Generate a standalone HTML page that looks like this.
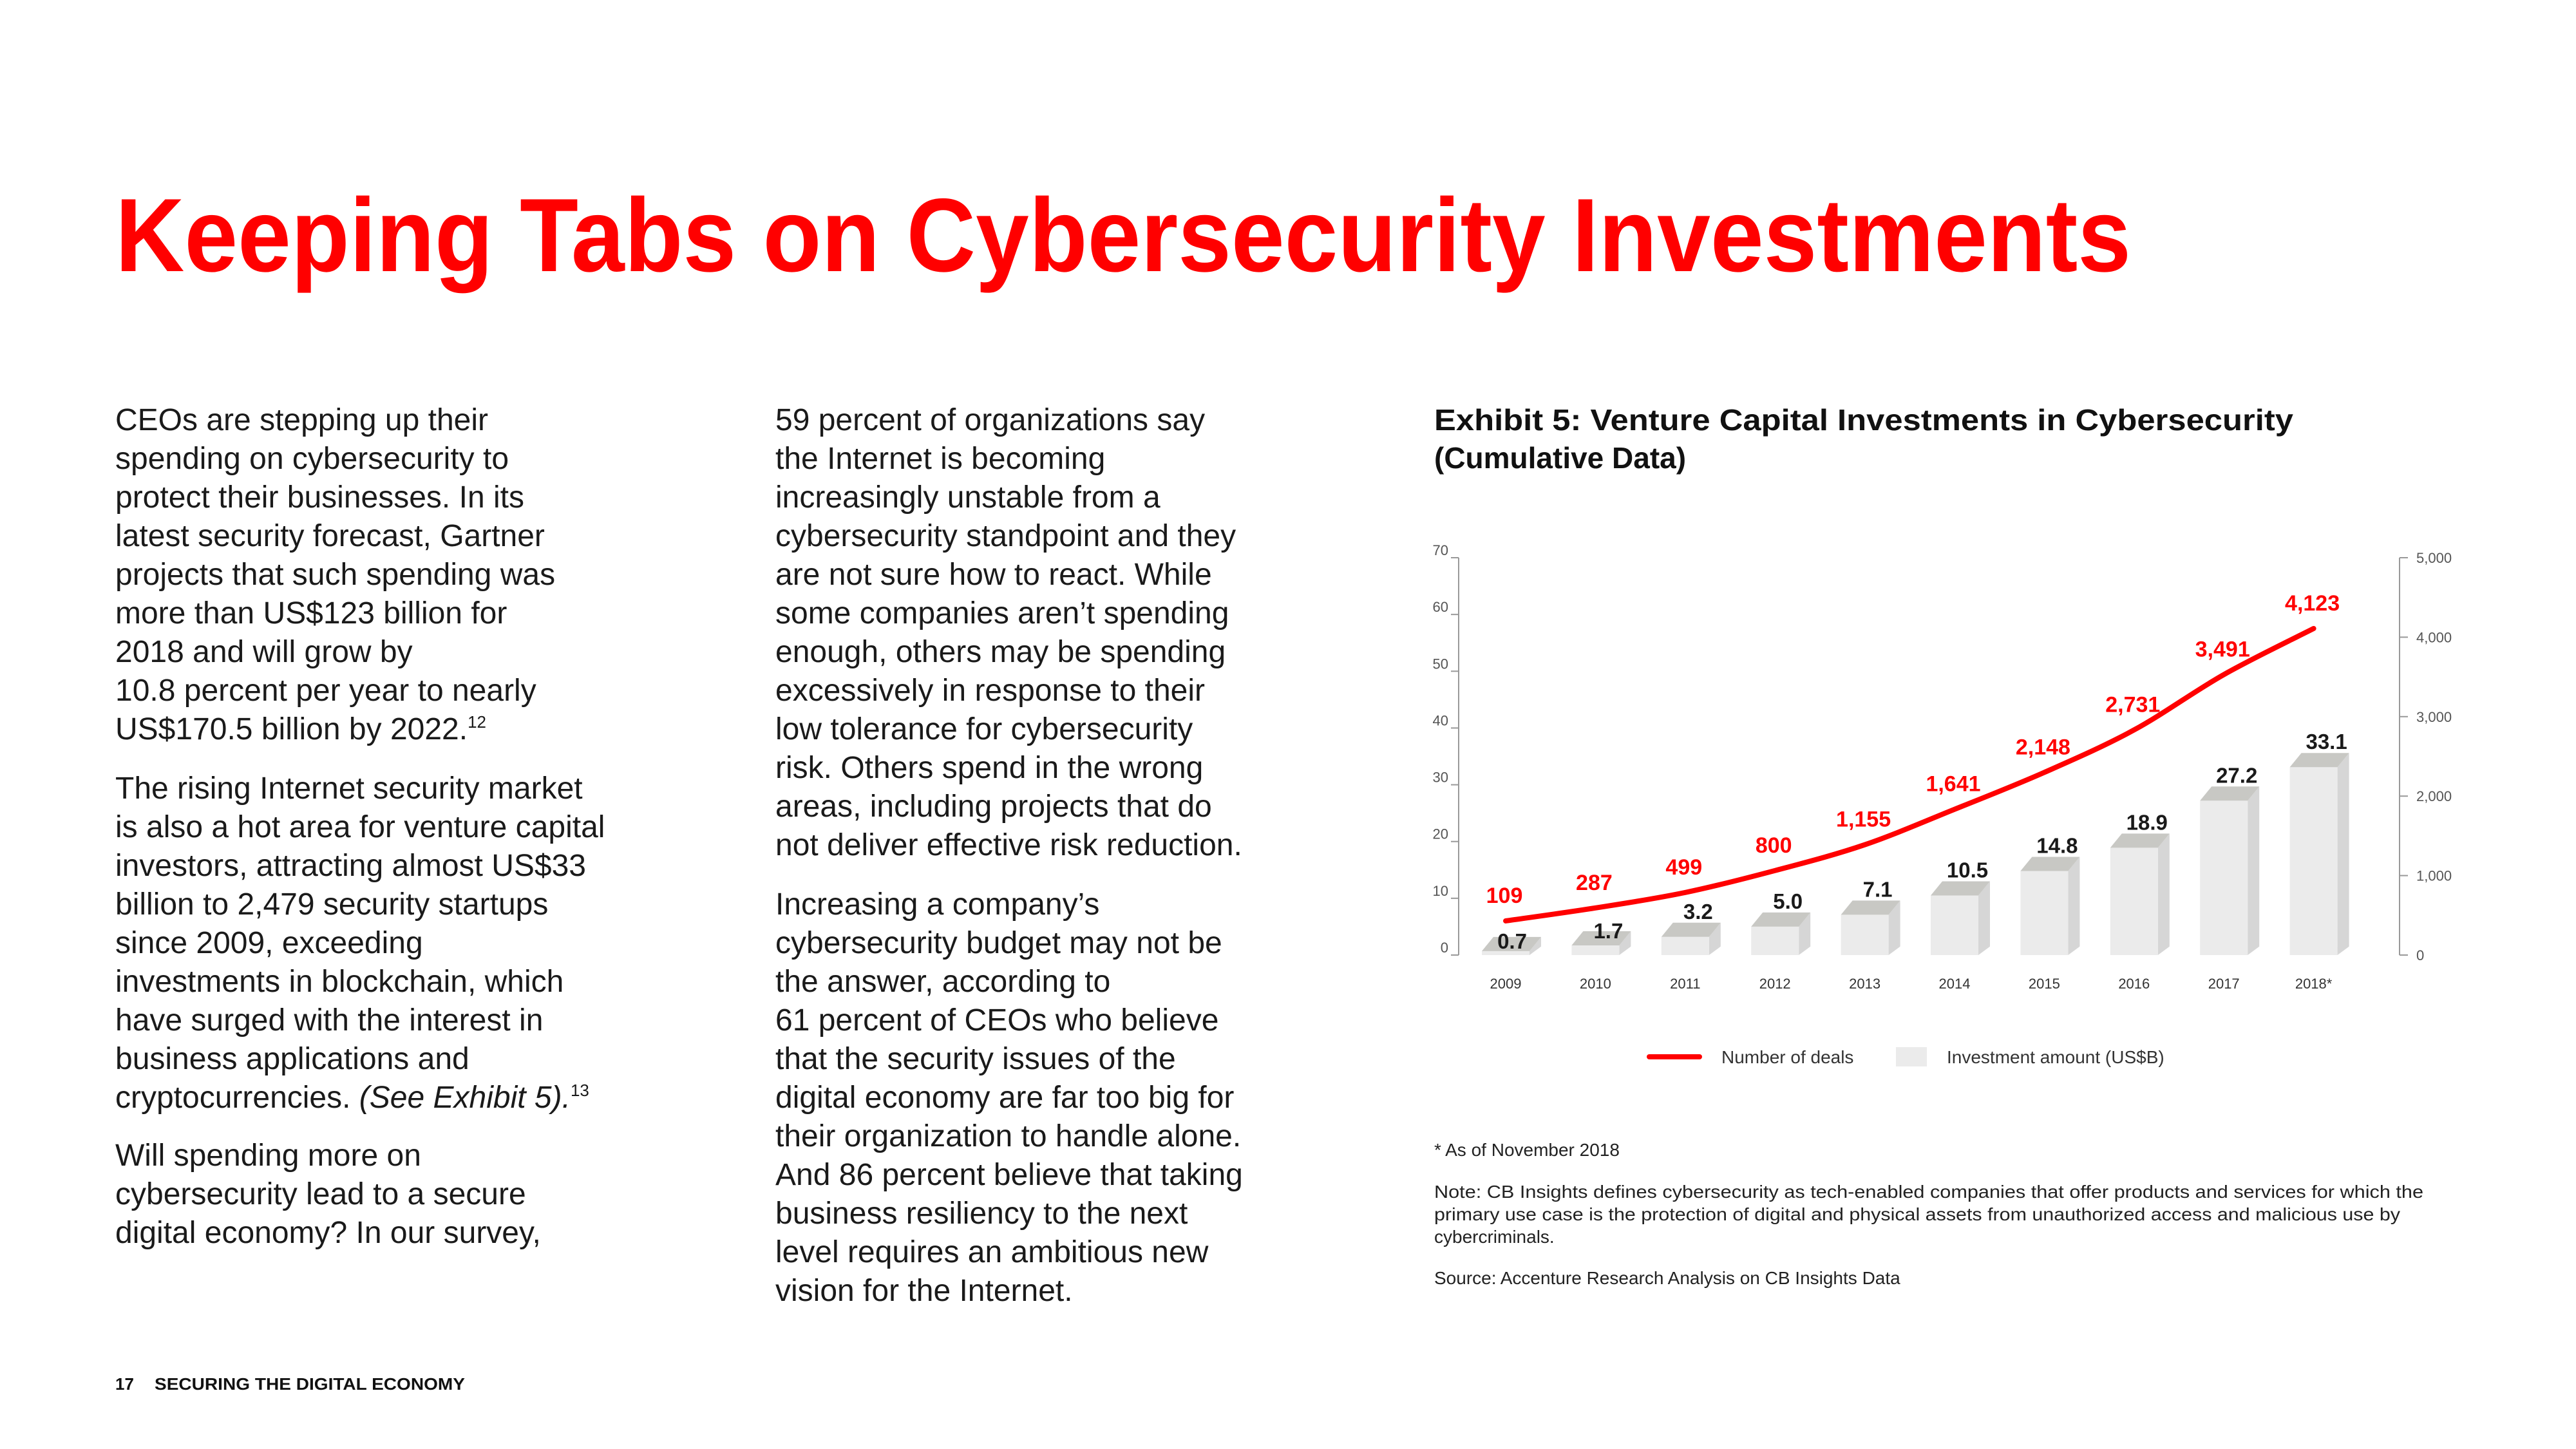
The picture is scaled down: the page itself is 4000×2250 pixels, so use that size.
<!DOCTYPE html>
<html><head><meta charset="utf-8">
<style>
html,body{margin:0;padding:0;background:#fff;}
svg{display:block;font-family:"Liberation Sans",sans-serif;}
.body{font-size:48px;fill:#1a1a1a;}
.note{font-size:28px;fill:#222;}
</style></head>
<body>
<svg id="page" width="4000" height="2250" viewBox="0 0 4000 2250" xmlns="http://www.w3.org/2000/svg">
<rect width="4000" height="2250" fill="#fff"/>
<text x="179" y="421" font-size="162" font-weight="bold" fill="#ff0000" textLength="3130" lengthAdjust="spacingAndGlyphs">Keeping Tabs on Cybersecurity Investments</text>

<g class="body">
<text x="179" y="668">CEOs are stepping up their</text>
<text x="179" y="728">spending on cybersecurity to</text>
<text x="179" y="788">protect their businesses. In its</text>
<text x="179" y="848">latest security forecast, Gartner</text>
<text x="179" y="908">projects that such spending was</text>
<text x="179" y="968">more than US$123 billion for</text>
<text x="179" y="1028">2018 and will grow by</text>
<text x="179" y="1088">10.8 percent per year to nearly</text>
<text x="179" y="1148">US$170.5 billion by 2022.<tspan font-size="26" dy="-18">12</tspan></text>
<text x="179" y="1240">The rising Internet security market</text>
<text x="179" y="1300">is also a hot area for venture capital</text>
<text x="179" y="1360">investors, attracting almost US$33</text>
<text x="179" y="1420">billion to 2,479 security startups</text>
<text x="179" y="1480">since 2009, exceeding</text>
<text x="179" y="1540">investments in blockchain, which</text>
<text x="179" y="1600">have surged with the interest in</text>
<text x="179" y="1660">business applications and</text>
<text x="179" y="1720">cryptocurrencies. <tspan font-style="italic">(See Exhibit 5).</tspan><tspan font-size="26" dy="-18">13</tspan></text>
<text x="179" y="1810">Will spending more on</text>
<text x="179" y="1870">cybersecurity lead to a secure</text>
<text x="179" y="1930">digital economy? In our survey,</text>
</g>

<g class="body">
<text x="1204" y="668">59 percent of organizations say</text>
<text x="1204" y="728">the Internet is becoming</text>
<text x="1204" y="788">increasingly unstable from a</text>
<text x="1204" y="848">cybersecurity standpoint and they</text>
<text x="1204" y="908">are not sure how to react. While</text>
<text x="1204" y="968">some companies aren’t spending</text>
<text x="1204" y="1028">enough, others may be spending</text>
<text x="1204" y="1088">excessively in response to their</text>
<text x="1204" y="1148">low tolerance for cybersecurity</text>
<text x="1204" y="1208">risk. Others spend in the wrong</text>
<text x="1204" y="1268">areas, including projects that do</text>
<text x="1204" y="1328">not deliver effective risk reduction.</text>
<text x="1204" y="1420">Increasing a company’s</text>
<text x="1204" y="1480">cybersecurity budget may not be</text>
<text x="1204" y="1540">the answer, according to</text>
<text x="1204" y="1600">61 percent of CEOs who believe</text>
<text x="1204" y="1660">that the security issues of the</text>
<text x="1204" y="1720">digital economy are far too big for</text>
<text x="1204" y="1780">their organization to handle alone.</text>
<text x="1204" y="1840">And 86 percent believe that taking</text>
<text x="1204" y="1900">business resiliency to the next</text>
<text x="1204" y="1960">level requires an ambitious new</text>
<text x="1204" y="2020">vision for the Internet.</text>
</g>

<g font-weight="bold" font-size="26" fill="#111">
<text x="179" y="2158">17</text>
<text x="240" y="2158" textLength="482" lengthAdjust="spacingAndGlyphs">SECURING THE DIGITAL ECONOMY</text>
</g>

<g font-weight="bold" font-size="46" fill="#111">
<text x="2227" y="668" textLength="1334" lengthAdjust="spacingAndGlyphs">Exhibit 5: Venture Capital Investments in Cybersecurity</text>
<text x="2227" y="727">(Cumulative Data)</text>
</g>

<g id="chart"></g>

<g font-size="28" fill="#333">
<line x1="2561" y1="1641" x2="2639" y2="1641" stroke="#f00" stroke-width="8" stroke-linecap="round"/>
<text x="2673" y="1651">Number of deals</text>
<rect x="2944" y="1626" width="48" height="30" fill="#ebebeb"/>
<text x="3023" y="1651">Investment amount (US$B)</text>
</g>

<g class="note">
<text x="2227" y="1795">* As of November 2018</text>
<text x="2227" y="1860" textLength="1536" lengthAdjust="spacingAndGlyphs">Note: CB Insights defines cybersecurity as tech-enabled companies that offer products and services for which the</text>
<text x="2227" y="1895" textLength="1500" lengthAdjust="spacingAndGlyphs">primary use case is the protection of digital and physical assets from unauthorized access and malicious use by</text>
<text x="2227" y="1930">cybercriminals.</text>
<text x="2227" y="1994">Source: Accenture Research Analysis on CB Insights Data</text>
</g>
</svg>

<script>
const years = ["2009","2010","2011","2012","2013","2014","2015","2016","2017","2018*"];
const investment = [0.7,1.7,3.2,5.0,7.1,10.5,14.8,18.9,27.2,33.1];
const deals = [109,287,499,800,1155,1641,2148,2731,3491,4123];
const leftTicks = [0,10,20,30,40,50,60,70];
const rightTicks = [0,1000,2000,3000,4000,5000];
const rightTickLabels = ["0","1,000","2,000","3,000","4,000","5,000"];

const NS = "http://www.w3.org/2000/svg";
const chart = document.getElementById("chart");
const Y0 = 1483, Y1 = 866, XL = 2265, XR = 3726, C0 = 2338, STEP = 139.4;
const yL = v => Y0 - v / 70 * (Y0 - Y1);
const yR = v => Y0 - v / 5000 * (Y0 - Y1);
// the published line is drawn slightly offset from the right axis scale
const yD = v => 1442.3 - v * 0.1131;
const xC = i => C0 + i * STEP;
function mk(tag, attrs, parent) {
  const e = document.createElementNS(NS, tag);
  for (const k in attrs) e.setAttribute(k, attrs[k]);
  (parent || chart).appendChild(e);
  return e;
}
let a = mk("line", {x1: XL, y1: Y1, x2: XL, y2: Y0, stroke: "#999", "stroke-width": 2});


a = mk("line", {x1: XR, y1: Y1, x2: XR, y2: Y0, stroke: "#999", "stroke-width": 2});


leftTicks.forEach(t => {
  const y = yL(t);
  const l = mk("line", {x1: XL - 12, y1: y, x2: XL, y2: y, stroke: "#999", "stroke-width": 2});
  
  
  const tx = mk("text", {x: XL - 16, y: y - 4, "text-anchor": "end", "font-size": 22, fill: "#555"});
  tx.textContent = t;
  
  
});
rightTicks.forEach((t, i) => {
  const y = yR(t);
  const l = mk("line", {x1: XR, y1: y, x2: XR + 13, y2: y, stroke: "#999", "stroke-width": 2});
  
  
  const tx = mk("text", {x: XR + 26, y: y + 8, "font-size": 22, fill: "#555"});
  tx.textContent = rightTickLabels[i];
  
  
});
const W = 74, DX = 18, DY = 22;
investment.forEach((v, i) => {
  const c = xC(i), x0 = c - W / 2, x1 = c + W / 2, yt = yL(v);
  const g = mk("g", {});
  
  
  mk("polygon", {points: `${x1},${yt} ${x1+DX},${yt-DY} ${x1+DX},${Y0-DY*0.6} ${x1},${Y0}`, fill: "#d6d6d6"}, g);
  mk("rect", {x: x0, y: yt, width: W, height: Y0 - yt, fill: "#ebebeb"}, g);
  mk("polygon", {points: `${x0},${yt} ${x1},${yt} ${x1+DX},${yt-DY} ${x0+DX},${yt-DY}`, fill: "#c8c8c4"}, g);
  const off = v < 1 ? 4 : (v < 2.5 ? 11 : 28);
  const t = mk("text", {x: c + (v < 1 ? 10 : 20), y: yt - off, "text-anchor": "middle", "font-size": 33, "font-weight": "bold", fill: "#1a1a1a"});
  t.textContent = v.toFixed(1);
  
  
  const yl = mk("text", {x: c, y: 1535, "text-anchor": "middle", "font-size": 22, fill: "#333"});
  yl.textContent = years[i];
  
  
});
const pts = deals.map((d, i) => [xC(i), yD(d)]);
let dpath = `M${pts[0][0]},${pts[0][1]}`;
for (let i = 0; i < pts.length - 1; i++) {
  const p0 = pts[Math.max(0, i - 1)], p1 = pts[i], p2 = pts[i + 1], p3 = pts[Math.min(pts.length - 1, i + 2)];
  const c1 = [p1[0] + (p2[0] - p0[0]) / 6, p1[1] + (p2[1] - p0[1]) / 6];
  const c2 = [p2[0] - (p3[0] - p1[0]) / 6, p2[1] - (p3[1] - p1[1]) / 6];
  dpath += ` C${c1[0]},${c1[1]} ${c2[0]},${c2[1]} ${p2[0]},${p2[1]}`;
}
const ln = mk("path", {d: dpath, fill: "none", stroke: "#f00", "stroke-width": 8, "stroke-linecap": "round"});


deals.forEach((d, i) => {
  const t = mk("text", {x: xC(i) - 2, y: yD(d) - 28, "text-anchor": "middle", "font-size": 34, "font-weight": "bold", fill: "#f00"});
  t.textContent = d.toLocaleString("en-US");
  
  
});
</script>
</body></html>
